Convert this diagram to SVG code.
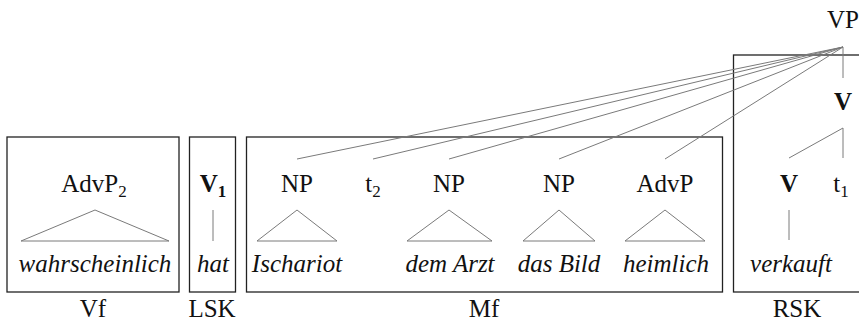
<svg xmlns="http://www.w3.org/2000/svg" width="859" height="322" viewBox="0 0 859 322">
<style>
text{font-family:"Liberation Serif","Times New Roman",serif;font-size:25px;fill:#111;text-anchor:middle}
.it{font-style:italic}
.b{font-weight:bold}
.sub{font-size:17px}
.box{fill:none;stroke:#222;stroke-width:1.3}
.e{stroke:#7a7a7a;stroke-width:1;fill:none}
</style>
<rect width="859" height="322" fill="#fff"/>
<g id="field-Vf">
<rect class="box" x="7" y="137" width="172" height="155"/>
<text x="94" y="192">AdvP<tspan class="sub" dy="5">2</tspan></text>
<polygon class="e" points="95,210 21,241 169,241"/>
<text class="it" x="95" y="272">wahrscheinlich</text>
<text x="93" y="317">Vf</text>
</g>
<g id="field-LSK">
<rect class="box" x="189.5" y="137" width="46" height="155"/>
<text class="b" x="213" y="192">V<tspan class="sub" dy="5">1</tspan></text>
<text class="it" x="213" y="272">hat</text>
<text x="212" y="317">LSK</text>
</g>
<g id="field-Mf">
<rect class="box" x="246.5" y="137" width="476" height="155"/>
<text x="484" y="317">Mf</text>
</g>
<g id="field-RSK">
<rect class="box" x="733.5" y="55" width="140" height="237"/>
<text x="797" y="317">RSK</text>
</g>
<g id="node-VP"><text x="843" y="28">VP</text></g>
<g id="node-Vbar"><text class="b" x="843" y="110">V</text></g>
<g id="node-V"><text class="b" x="789" y="192">V</text></g>
<g id="node-verkauft"><text class="it" x="791" y="272">verkauft</text></g>
<g id="node-t1"><text x="841" y="192">t<tspan class="sub" dy="5">1</tspan></text></g>
<g id="node-NP1">
<text x="297" y="192">NP</text>
<polygon class="e" points="297,210 257,241 337,241"/>
<text class="it" x="297" y="272">Ischariot</text>
</g>
<g id="node-t2"><text x="373" y="192">t<tspan class="sub" dy="5">2</tspan></text></g>
<g id="node-NP2">
<text x="449" y="192">NP</text>
<polygon class="e" points="449,210 407,241 492,241"/>
<text class="it" x="450" y="272">dem Arzt</text>
</g>
<g id="node-NP3">
<text x="559" y="192">NP</text>
<polygon class="e" points="559,210 523,241 595,241"/>
<text class="it" x="559" y="272">das Bild</text>
</g>
<g id="node-AdvP">
<text x="665" y="192">AdvP</text>
<polygon class="e" points="665,210 625,241 705,241"/>
<text class="it" x="666" y="272">heimlich</text>
</g>
<g id="connectors">
<line class="e" x1="843" y1="47" x2="297" y2="159"/>
<line class="e" x1="843" y1="47" x2="373" y2="159"/>
<line class="e" x1="843" y1="47" x2="449" y2="159"/>
<line class="e" x1="843" y1="47" x2="559" y2="159"/>
<line class="e" x1="843" y1="47" x2="665" y2="159"/>
<line class="e" x1="843" y1="47" x2="843" y2="78"/>
<line class="e" x1="843" y1="128" x2="843" y2="158"/>
<line class="e" x1="843" y1="128" x2="789" y2="158"/>
<line class="e" x1="789" y1="210" x2="789" y2="240"/>
<line class="e" x1="213" y1="210" x2="213" y2="241"/>
</g>
</svg>
